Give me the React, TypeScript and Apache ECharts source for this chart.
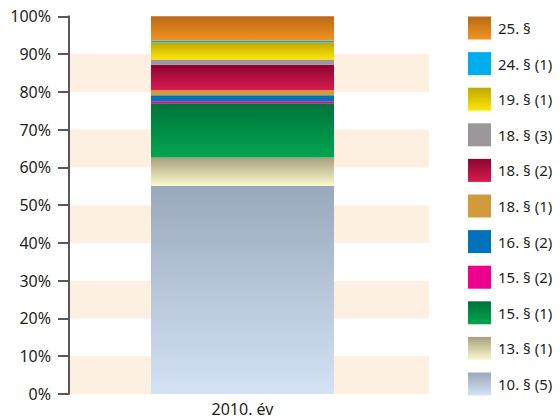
import React, { useEffect, useRef } from "react";
import * as echarts from "echarts";

const categories = ["2010. év"];
const seriesNames = [
  "10. § (5)",
  "13. § (1)",
  "15. § (1)",
  "15. § (2)",
  "16. § (2)",
  "18. § (1)",
  "18. § (2)",
  "18. § (3)",
  "19. § (1)",
  "24. § (1)",
  "25. §",
];
const seriesValues = [55.1, 7.5, 14.4, 0.5, 1.6, 1.3, 6.8, 1.35, 4.5, 0.5, 6.45];
const seriesColors: [string, string][] = [
  ["#9aa8bb", "#d3e3f5"],
  ["#a8a07f", "#fcf8cc"],
  ["#00733a", "#00a651"],
  ["#ec008c", "#ec008c"],
  ["#0072bc", "#0072bc"],
  ["#d19a3d", "#d19a3d"],
  ["#8c0432", "#d81b50"],
  ["#9b979b", "#9b979b"],
  ["#c1a700", "#fde800"],
  ["#00aeef", "#00aeef"],
  ["#b76a15", "#f39320"],
];
const yTicks = { min: 0, max: 100, interval: 10 };

export default function App() {
  const ref = useRef<HTMLDivElement>(null);
  useEffect(() => {
    if (!ref.current) return;
    const chart = echarts.init(ref.current, undefined, { renderer: "svg" });
    const font = "Noto Sans";
    const textColor = "#231f20";
    const axisColor = "#58595b";
    chart.setOption({
      animation: false,
      legend: {
        orient: "vertical",
        left: 468,
        top: 16.5,
        padding: 0,
        itemWidth: 23,
        itemHeight: 23,
        itemGap: 12.6,
        icon: "rect",
        data: [...seriesNames].reverse(),
        textStyle: { fontFamily: font, fontSize: 15, color: textColor, padding: [0, 0, 0, 2] },
      },
      grid: [
        { left: 69, right: 131, top: 16.3, bottom: 25 },
        { left: 69, right: 144, top: 16.3, bottom: 25 },
      ],
      xAxis: [
        { type: "category", gridIndex: 0, data: categories, show: false },
        {
          type: "category",
          gridIndex: 1,
          data: categories,
          axisLine: { show: false },
          axisTick: { show: false },
          axisLabel: { margin: 7, fontFamily: font, fontSize: 16, color: textColor },
        },
      ],
      yAxis: [
        {
          type: "value",
          gridIndex: 0,
          min: yTicks.min,
          max: yTicks.max,
          interval: yTicks.interval,
          axisLine: { show: true, lineStyle: { color: axisColor, width: 2 } },
          axisTick: { show: true, length: 11, lineStyle: { color: axisColor, width: 2 } },
          axisLabel: {
            formatter: "{value}%",
            fontFamily: font,
            fontSize: 16,
            color: textColor,
            margin: 18,
          },
          splitLine: { show: false },
          splitArea: { show: true, areaStyle: { color: ["#fdf0e1", "rgba(255,255,255,0)"] } },
        },
        {
          type: "value",
          gridIndex: 1,
          min: yTicks.min,
          max: yTicks.max,
          interval: yTicks.interval,
          show: false,
          splitLine: { show: false },
        },
      ],
      series: seriesNames.map((name, i) => ({
        name,
        type: "bar",
        stack: "total",
        xAxisIndex: 1,
        yAxisIndex: 1,
        barWidth: 183,
        data: [seriesValues[i]],
        itemStyle: {
          color: new echarts.graphic.LinearGradient(0, 0, 0, 1, [
            { offset: 0, color: seriesColors[i][0] },
            { offset: 1, color: seriesColors[i][1] },
          ]),
        },
      })),
    });
    return () => chart.dispose();
  }, []);
  return (
    <div
      ref={ref}
      style={{ position: "fixed", left: 0, top: 0, width: 560, height: 419, background: "#fff" }}
    />
  );
}
